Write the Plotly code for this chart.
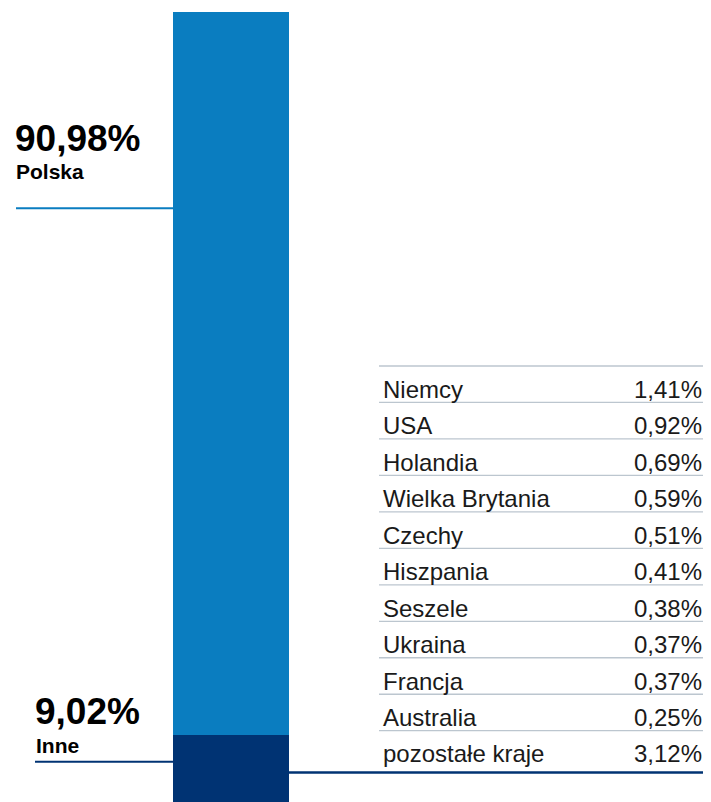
import plotly.graph_objects as go

# main split
groups = ["Polska", "Inne"]
group_shares = [90.98, 9.02]
group_colors = ["#0a7dc0", "#003373"]

# breakdown of "Inne"
countries = ["Niemcy", "USA", "Holandia", "Wielka Brytania", "Czechy", "Hiszpania",
             "Seszele", "Ukraina", "Francja", "Australia", "pozostałe kraje"]
country_shares = [1.41, 0.92, 0.69, 0.59, 0.51, 0.41, 0.38, 0.37, 0.37, 0.25, 3.12]

# the page body keeps its default 8px margin, so the figure is 8px smaller
OFF = 8
W, H = 711 - OFF, 802 - OFF
TOP = 12 - OFF
PLOT_H = H - TOP
FONT = "Liberation Sans, Arial, sans-serif"


def pct(v):
    return f"{v:.2f}".replace(".", ",") + "%"


def px(x):
    # page pixel -> paper x
    return (x - OFF) / W


def py(y):
    # page pixel from top -> paper y
    return (H + OFF - y) / PLOT_H


fig = go.Figure()

# stacked single column, Inne at the bottom
for name, val, col in zip(reversed(groups), reversed(group_shares), reversed(group_colors)):
    fig.add_trace(go.Bar(x=[0], y=[val], name=name, marker=dict(color=col, line=dict(width=0)),
                         width=1, hoverinfo="skip", showlegend=False))

# table axis: rows indexed from 0 (Niemcy), reversed
row_px = 36.47
t = -0.5 - (366 - OFF - TOP) / row_px
b = t + PLOT_H / row_px

annotations = []
shapes = []

for i, (c, v) in enumerate(zip(countries, country_shares)):
    annotations.append(dict(x=0, y=i, xref="x2", yref="y2", text=c, showarrow=False,
                            xanchor="left", yanchor="middle", xshift=2, yshift=-5,
                            font=dict(family=FONT, size=24, color="#1a1a1a")))
    annotations.append(dict(x=1, y=i, xref="x2", yref="y2", text=pct(v), showarrow=False,
                            xanchor="right", yanchor="middle", xshift=1, yshift=-5,
                            font=dict(family=FONT, size=24, color="#1a1a1a")))

for i in range(len(countries)):
    shapes.append(dict(type="line", xref="x2", yref="y2", x0=0, x1=1, y0=i - 0.5, y1=i - 0.5,
                       line=dict(color="#bcc6cf", width=1.3)))

# big labels on the left
big = [(groups[0], group_shares[0], 13, 139, 172, 208.3, 16),
       (groups[1], group_shares[1], 33, 711.5, 745, 761.7, 35)]
for name, val, x, y_num, y_name, y_line, x_line in big:
    annotations.append(dict(x=px(x), y=py(y_num), xref="paper", yref="paper", text="<b>" + pct(val) + "</b>",
                            showarrow=False, xanchor="left", yanchor="middle",
                            font=dict(family=FONT, size=37, color="#000000")))
    annotations.append(dict(x=px(x + 1), y=py(y_name), xref="paper", yref="paper", text="<b>" + name + "</b>",
                            showarrow=False, xanchor="left", yanchor="middle",
                            font=dict(family=FONT, size=21, color="#000000")))
    shapes.append(dict(type="line", xref="paper", yref="paper", x0=px(x_line), x1=px(173),
                       y0=py(y_line), y1=py(y_line),
                       line=dict(color=group_colors[groups.index(name)], width=2)))

# connector from the "Inne" block to the bottom of the table
shapes.append(dict(type="line", xref="paper", yref="paper", x0=px(289), x1=px(703), y0=py(772.5), y1=py(772.5),
                   line=dict(color=group_colors[1], width=2.5)))

fig.update_layout(
    width=W, height=H,
    margin=dict(l=0, r=0, t=TOP, b=0),
    paper_bgcolor="white", plot_bgcolor="white",
    barmode="stack", bargap=0,
    xaxis=dict(domain=[px(173), px(289)], range=[-0.5, 0.5], visible=False, fixedrange=True),
    yaxis=dict(range=[100 - PLOT_H * 90.98 / (735 - 12), 100], visible=False, fixedrange=True),
    xaxis2=dict(domain=[px(379), px(703)], range=[0, 1], anchor="y2", visible=False),
    yaxis2=dict(domain=[0, 1], range=[b, t], anchor="x2", visible=False),
    annotations=annotations,
    shapes=shapes,
)

# invisible trace so the table axes are drawn
fig.add_trace(go.Scatter(x=[0, 1], y=[0, 0], xaxis="x2", yaxis="y2", mode="markers",
                         marker=dict(opacity=0), hoverinfo="skip", showlegend=False))

fig.write_html("out.html")
